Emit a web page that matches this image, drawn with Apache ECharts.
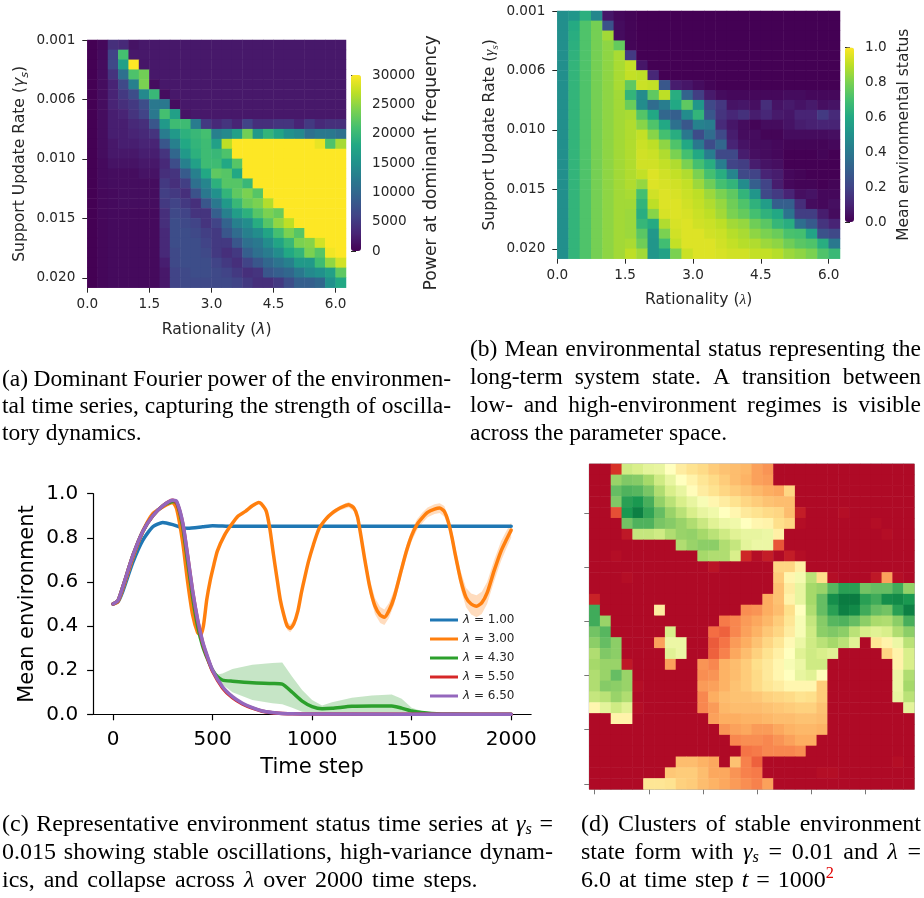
<!DOCTYPE html>
<html><head><meta charset="utf-8">
<style>html,body{margin:0;padding:0;background:#fff}#c{width:924px;height:898px}</style>
<script src="https://cdn.jsdelivr.net/npm/echarts@6/dist/echarts.min.js"></script>
</head><body><div id="c"></div>
<script>
// Panel (a): power at dominant frequency, in thousands; rows run top to bottom
const powerRows = [
[0,.6,4,3.5,1.5,2,2,2,2,2,2,2,2,2,2,2,2,2,2,2,2,2,2,2,2],
[0,.8,6,21,2,2,2,2,2,2,2,2,2,2,2,2,2,2,2,2,2,2,2,2,2],
[0,.9,6.5,17,30,1.8,2,2,2,2,2,2,2,2,2,2,2,2,2,2,2,2,2,2,2],
[0,1,4.5,11,21.5,23.5,2,2,2,2,2,2,2,2,2,2,2,2,2,2,2,2,2,2,2],
[0,1,3,6.5,13,24,1,2,2,2,2,2,2,2,2,2,2,2,2,2,2,2,2,2,2],
[0,1,3,5,7,14,20,1,2,2,2,2,2,2,2,2,2,2,2,2,2,2,2,2,2],
[0,1,3,4,5,7,12,12,1,2,2,2,2,2,2,2,2,2,2,2,2,2,2,2,2],
[0,1,2.5,3,4.5,6,12,21,17,1.5,2,2,2,2,2,2,2,2,2,2,2,2,2,2,2],
[0,1,2.5,2.5,3.5,4,8,16,20.5,20.5,12.5,5,3.5,4.5,3,6,4,4,4.5,4.5,3,5,3.5,4,4],
[0,1,2.5,2.5,3,3.5,4.5,12.5,16,19,20,21,13,14,17,23.5,16,19.5,17.5,15,14,11,12,12,11],
[0,1,2,2.5,2.5,3,3,8,13,18,19.5,20.5,17,27,30,30,30,30,30,30,30,30,29,21.5,26],
[0,1,2,2,2,2.5,2.5,4.5,10,16,19,20.5,20,21.5,30,30,30,30,30,30,30,30,30,30,30],
[0,.8,1.5,1.5,1.5,2,2,3.5,7,13,17,20.5,20.5,18,22,30,30,30,30,30,30,30,30,30,30],
[0,.8,1,1,1,1.5,1.5,4,4.5,8.5,13,18,22.5,22,18,30,30,30,30,30,30,30,30,30,30],
[0,.8,1,1,1,1,1,5,4,5.5,11,13.5,19,22,22,20,30,30,30,30,30,30,30,30,30],
[0,.6,.8,1,1,1,1,5.5,5,4,7.5,12,15,19.5,22.5,24,22,30,30,30,30,30,30,30,30],
[0,.6,.8,1,1,1,1,5,6,5,4,8,12,16,20,23,24,26.5,30,30,30,30,30,30,30],
[0,.6,.8,.8,.8,.8,.8,4,6.5,6,4.5,4.5,9,13,16.5,19,22,24,23,30,30,30,30,30,30],
[0,.5,.8,.8,.8,.8,.8,4,7,6.5,6,4.5,6,9.5,13,14.5,18.5,22,25,27,30,30,30,30,30],
[0,.5,.8,.8,.8,.8,.8,3.5,7,7,6.5,5.5,5,8,10.5,13,14.5,17.5,21,24,22,30,30,30,30],
[0,.5,.8,.8,.8,.8,.8,3.5,7,7,7,6,5,5,8,11,12,14.5,17.5,20,24,24.5,28,30,30],
[0,.5,.8,.8,.8,.8,.8,3.5,6.5,7,7,6.5,5,4,5,9,11,12.5,14.5,18,19.5,24,22,29.5,30],
[0,.5,.8,.8,.8,.8,.8,2.5,6.5,7,7,7,6,5,4,6,8,10,11.5,13,16,16,20.5,25,28],
[0,.5,.8,.8,.8,.8,.8,2,6,6.5,7,7,6.5,6,5,4,4.5,8,9,10,12,14,15,17,22.5],
[0,.5,.8,.8,.8,.8,.8,2,6,6.5,6.5,6.5,6.5,6.5,6,5,4,4,5,7,9,9,10,15,18]
];
// Panel (b): mean environmental status, in percent
const statusRows = [
[49,52,63,46,6,2,1,0,0,0,0,0,0,0,0,0,0,0,0,0,0,0,0,0,0],
[49,61,72,79,25,3,1,0,0,0,0,0,0,0,0,0,0,0,0,0,0,0,0,0,0],
[49,62,72,79,86,3,1,0,0,0,0,0,0,0,0,0,0,0,0,0,0,0,0,0,0],
[49,63,72,79,83,76,1,0,0,0,0,0,0,0,0,0,0,0,0,0,0,0,0,0,0],
[49,64,72,79,83,87,17,0,0,0,0,0,0,0,0,0,0,0,0,0,0,0,0,0,0],
[49,65,72,79,83,87,91,6,0,0,0,0,0,0,0,0,0,0,0,0,0,0,0,0,0],
[49,65,72,79,83,87,91,90,11,0,0,0,0,0,0,0,0,0,0,0,0,0,0,0,0],
[49,65,72,79,83,87,75,92,91,27,8,6,3,1,0,0,0,0,0,0,0,0,0,0,0],
[49,65,72,79,83,86,65,48,75,90,62,32,18,7,3,2,2,2,2,2,3,3,2,2,2],
[49,65,72,79,83,86,77,48,35,42,60,75,52,22,16,5,6,4,13,5,7,5,7,4,5],
[49,65,72,79,83,86,87,73,60,33,30,48,65,27,15,11,14,8,11,7,6,10,10,17,12],
[49,65,72,79,83,86,88,82,72,60,37,27,44,42,12,6,3,1,3,3,5,8,9,10,10],
[49,65,72,79,83,86,88,91,82,70,62,40,23,35,22,8,3,3,1,1,3,3,3,3,4],
[49,65,72,79,83,86,88,92,90,83,72,60,40,23,33,10,5,3,3,2,1,1,1,1,2],
[49,65,72,79,83,86,88,93,92,88,80,70,60,42,22,22,8,4,3,2,0,0,0,1,0],
[49,65,72,79,83,86,88,93,93,91,88,80,70,62,42,20,18,8,5,4,0,0,0,0,0],
[49,65,72,79,83,86,88,91,95,93,91,88,80,70,62,45,22,20,10,8,2,1,0,0,0],
[49,65,72,79,83,86,88,84,95,94,93,91,85,78,70,65,48,30,20,8,2,1,1,0,1],
[49,65,72,79,83,86,87,70,93,95,94,92,90,85,80,75,65,52,22,17,10,4,5,2,2],
[49,65,72,79,83,86,86,65,90,95,95,93,91,88,84,78,72,64,55,30,30,13,3,2,4],
[49,65,72,79,83,86,85,62,82,94,95,94,92,90,86,80,76,70,64,60,38,18,18,8,3],
[49,65,72,79,83,86,85,66,61,88,94,95,93,92,90,86,84,78,74,66,62,36,28,15,10],
[49,65,72,79,83,86,85,74,53,80,93,95,95,93,92,89,87,83,80,77,71,70,58,25,22],
[49,65,72,79,83,86,87,78,52,69,91,95,95,95,93,91,89,88,85,83,78,74,72,62,40],
[49,65,72,79,83,86,90,86,52,57,80,92,95,95,94,93,93,91,91,89,85,83,80,72,67]
];
// Panel (d): environment state on the lattice, 0 = red, 100 = green
const latticeRows = [
[2,2,10,62,60,57,56,50,44,41,39,36,34,33,32,28,26,2,2,2,2,2,2,2,2,2,2,2,2,2],
[2,2,72,76,75,70,62,56,50,46,42,39,36,33,31,28,27,2,2,2,2,2,2,2,2,2,2,2,2,2],
[2,2,80,83,82,77,68,60,56,49,44,41,38,36,34,32,30,29,38,2,2,2,2,2,2,2,2,2,2,2],
[2,2,76,88,90,84,73,66,60,56,52,47,44,41,38,36,34,33,33,2,2,2,2,2,2,2,2,2,2,2],
[2,2,15,90,95,87,80,72,66,60,56,54,50,47,43,41,39,38,33,6,2,2,2,3,2,2,2,2,2,2],
[2,2,2,78,83,83,77,75,72,68,63,58,55,54,50,47,46,40,38,3,2,2,2,2,2,2,3,2,2,2],
[2,2,2,5,64,64,62,68,72,73,70,66,62,58,56,56,55,45,2,2,2,2,2,2,2,2,2,3,2,2],
[2,2,2,2,2,2,2,2,68,72,74,74,68,64,57,55,55,16,2,2,2,2,2,2,2,2,2,2,2,2],
[2,2,3,2,2,2,2,2,2,2,70,68,68,60,8,3,6,2,6,3,2,2,2,2,2,2,2,2,2,2],
[2,2,2,2,2,2,2,2,2,2,2,4,2,2,2,2,2,38,38,45,2,2,2,2,2,2,2,2,2,2],
[2,2,2,3,2,2,2,2,2,2,2,2,2,2,2,2,2,36,47,53,66,40,3,2,2,2,5,28,3,2],
[2,2,2,2,2,2,2,2,2,2,2,2,2,2,2,2,2,34,44,56,70,72,82,88,88,78,80,80,85,73],
[7,2,2,2,2,2,2,2,2,2,2,2,2,2,2,2,30,34,46,56,70,80,92,96,96,88,85,92,93,90],
[85,2,2,2,2,2,44,2,2,2,2,2,2,2,25,26,30,33,40,50,68,80,88,95,93,85,80,78,88,95],
[85,72,2,2,2,2,2,2,2,2,2,2,22,24,27,29,32,36,42,52,64,75,82,83,80,74,69,68,74,84],
[78,82,2,2,2,2,2,60,2,2,2,20,18,24,28,31,35,38,44,52,62,74,76,74,66,60,58,60,68,74],
[74,80,74,2,2,2,28,55,55,2,2,17,21,27,30,34,38,42,48,55,62,66,70,66,58,2,42,46,55,66],
[68,76,74,2,2,2,2,58,55,2,2,18,23,29,33,37,41,45,50,58,62,60,58,2,2,2,2,38,46,60],
[70,72,72,5,2,2,2,28,2,2,26,24,31,33,36,40,43,47,52,55,62,62,2,2,2,2,2,2,46,60],
[68,72,80,72,2,2,2,2,2,2,25,26,31,33,36,39,43,47,50,56,58,49,2,2,2,2,2,2,55,68],
[68,75,74,72,3,2,2,2,2,2,27,28,31,34,36,39,42,44,47,47,47,36,2,2,2,2,2,2,55,70],
[64,66,72,68,2,2,2,2,2,2,24,30,33,34,34,35,37,38,39,41,40,36,2,2,2,2,2,2,56,66],
[47,57,62,58,3,2,2,2,2,2,24,27,32,33,33,33,34,35,36,37,37,34,2,2,2,2,2,2,2,57],
[2,2,46,46,2,2,2,2,2,2,2,28,30,30,31,31,32,33,33,34,34,33,2,2,2,2,2,2,2,2],
[2,2,2,2,2,2,2,2,2,2,2,2,26,28,29,27,27,29,31,32,32,31,2,2,2,2,2,2,2,2],
[2,2,2,2,2,2,2,2,2,2,2,2,2,24,25,25,24,26,28,30,30,2,2,2,2,2,2,2,2,2],
[2,2,2,2,2,2,2,2,2,2,2,2,2,2,21,22,24,24,24,25,2,2,2,2,2,2,2,2,2,2],
[2,2,2,2,2,2,2,2,33,33,31,29,2,34,23,18,2,2,2,2,2,2,2,2,2,2,2,2,3,2],
[2,2,2,2,2,2,2,35,36,36,33,29,29,26,23,22,2,2,2,2,2,3,3,2,2,2,2,2,2,2],
[2,2,2,2,2,42,42,41,37,36,33,31,29,27,25,23,28,2,2,2,2,2,2,2,2,2,2,2,2,2]
];
const lambdaTicks = ['0.0','1.5','3.0','4.5','6.0'];
const gammaTicks = ['0.001','0.006','0.010','0.015','0.020'];
const powerTicks = ['0','5000','10000','15000','20000','25000','30000'];
const statusTicks = ['0.0','0.2','0.4','0.6','0.8','1.0'];
const viridis = ['#440154','#482475','#414487','#355f8d','#2a788e','#21918c','#22a884','#44bf70','#7ad151','#bddf26','#fde725'];
const rdYlGn = ['#a50026','#d73027','#f46d43','#fdae61','#fee08b','#ffffbf','#d9ef8b','#a6d96a','#66bd63','#1a9850','#006837'];

// Panel (c): time series
const riseT = [0,25,50,100,150,200,250,300];
const riseY = [.5,.515,.58,.72,.83,.9,.945,.97];
const blueT = [0,25,50,100,150,200,250,300,350,375,450,500,600,700,1000,1300,1500,1700,2000];
const blueY = [.5,.51,.56,.69,.79,.85,.87,.86,.845,.843,.85,.855,.852,.853,.853,.853,.853,.853,.853];
const orangeT = [0,25,50,100,150,200,250,300,320,350,375,400,425,440,454,471,489,507,524,559,595,630,665,700,732,744,770,788,805,823,840,858,875,890,908,929,946,963,981,1007,1034,1069,1105,1140,1184,1210,1228,1245,1263,1289,1316,1342,1363,1386,1412,1447,1474,1500,1527,1553,1580,1615,1641,1664,1685,1703,1720,1746,1773,1799,1826,1852,1879,1914,1949,1975,2000];
const orangeY = [.5,.51,.57,.71,.83,.91,.94,.96,.93,.78,.6,.45,.37,.36,.40,.52,.61,.68,.74,.81,.86,.9,.92,.945,.96,.955,.92,.84,.73,.62,.52,.45,.40,.39,.41,.47,.55,.62,.69,.77,.84,.885,.915,.935,.95,.935,.895,.81,.71,.58,.49,.45,.44,.47,.53,.65,.74,.81,.86,.89,.915,.93,.935,.92,.87,.80,.72,.61,.53,.50,.49,.505,.55,.65,.74,.79,.835];
const orangeSpread = [0,0,0,0,0,0,0,0,0,0,0,.005,.008,.01,.008,.005,.004,.004,.004,.004,.005,.005,.006,.006,.006,.006,.006,.008,.01,.012,.014,.016,.018,.018,.016,.014,.012,.01,.01,.01,.01,.01,.01,.01,.012,.014,.016,.024,.03,.035,.036,.036,.035,.034,.032,.03,.028,.026,.024,.024,.022,.022,.022,.024,.026,.03,.034,.04,.044,.048,.05,.05,.05,.048,.045,.04,.035];
const greenT = [0,25,50,100,150,200,250,300,320,350,375,400,425,450,475,500,525,550,600,700,800,850,900,950,1000,1050,1100,1200,1300,1400,1450,1500,1550,1600,1700,2000];
const greenY = [.5,.515,.58,.72,.83,.9,.945,.965,.96,.85,.69,.53,.4,.31,.25,.2,.17,.155,.15,.143,.14,.137,.1,.06,.035,.025,.027,.036,.038,.038,.028,.015,.008,.004,.001,0];
const greenBandT = [500,525,550,600,700,800,850,900,950,1000,1050,1100,1200,1300,1400,1450,1500,1550,1600,1700,2000];
const greenLow = [.2,.16,.135,.1,.065,.05,.045,.03,.012,.008,.005,.003,.002,.001,.001,.001,0,0,0,0,0];
const greenHigh = [.2,.18,.185,.205,.225,.233,.235,.17,.11,.065,.04,.055,.075,.085,.09,.07,.03,.015,.008,.002,0];
const fallT = [300,320,350,375,400,425,450,475,500,550,600,650,700,750,800,850,900,1000,2000];
const redY = [.97,.96,.865,.715,.555,.425,.325,.255,.195,.12,.075,.047,.028,.014,.007,.004,.002,.001,0];
const purpleY = [.97,.965,.87,.72,.56,.43,.33,.26,.2,.125,.08,.05,.03,.015,.008,.004,.002,.001,0];
const seriesNames = ['λ = 1.00','λ = 3.00','λ = 4.30','λ = 5.50','λ = 6.50'];
const seriesColors = ['#1f77b4','#ff7f0e','#2ca02c','#d62728','#9467bd'];
const timeTicks = [0,500,1000,1500,2000];

// Captions: *x* italic, ~x~ italic subscript, ^x^ red superscript
const captionA = ['(a) Dominant Fourier power of the environmen-','tal time series, capturing the strength of oscilla-','tory dynamics.'];
const captionB = ['(b) Mean environmental status representing the','long-term system state. A transition between','low- and high-environment regimes is visible','across the parameter space.'];
const captionC = ['(c) Representative environment status time series at *γ*~s~ =','0.015 showing stable oscillations, high-variance dynam-','ics, and collapse across *λ* over 2000 time steps.'];
const captionD = ['(d) Clusters of stable environment','state form with *γ*~s~ = 0.01 and *λ* =','6.0 at time step *t* = 1000^2^'];

const sans = 'DejaVu Sans', ink = '#262626';
function cells(rows){const o=[];rows.forEach((r,y)=>r.forEach((v,x)=>o.push([x,y,v])));return o;}
function idx(n){return Array.from({length:n},(_,i)=>String(i));}
function pairs(t,y){return t.map((v,i)=>[v,y[i]]);}
const subRich = (family,fs)=>({
  i:{fontStyle:'italic',fontFamily:family,fontSize:fs,lineHeight:fs+6,color:ink},
  s:{fontStyle:'italic',fontFamily:family,fontSize:fs*.72,lineHeight:fs+6,verticalAlign:'bottom',color:ink},
  n:{fontFamily:sans,fontSize:fs,lineHeight:fs+6,color:ink}});

const grids = [
 {left:87.3,top:40,width:258.7,height:247.7},
 {left:351,top:75,width:10,height:176},
 {left:557.3,top:11,width:282.7,height:247.7},
 {left:845,top:47.5,width:9,height:174.5},
 {left:93.1,top:493.7,width:438,height:220.6},
 {left:589.3,top:464,width:325,height:325.3,show:true,borderColor:'#999',borderWidth:1}
];
const tick = {show:true,length:5,lineStyle:{color:ink,width:1}};
const hidden = (g,n)=>({type:'category',gridIndex:g,data:idx(n),show:false});
const lbl = (fs)=>({fontFamily:sans,fontSize:fs,color:ink});
const xAxes = [
 hidden(0,25),
 {type:'value',gridIndex:0,position:'bottom',min:0,max:6.25,axisLine:{show:false},splitLine:{show:false},
  axisTick:{...tick,customValues:[0,1.5,3,4.5,6]},
  axisLabel:{...lbl(13.6),margin:10,customValues:[0,1.5,3,4.5,6],formatter:v=>lambdaTicks[v/1.5]},
  name:'{n|Rationality (}{i|λ}{n|)}',nameLocation:'middle',nameGap:31,nameTextStyle:{rich:subRich(sans,15.6)}},
 {type:'value',gridIndex:1,min:0,max:1,show:false},
 hidden(2,25),
 {type:'value',gridIndex:2,position:'bottom',min:0,max:6.25,axisLine:{show:false},splitLine:{show:false},
  axisTick:{...tick,customValues:[0,1.5,3,4.5,6]},
  axisLabel:{...lbl(13.6),margin:10,customValues:[0,1.5,3,4.5,6],formatter:v=>lambdaTicks[v/1.5]},
  name:'{n|Rationality (}{i|λ}{n|)}',nameLocation:'middle',nameGap:30,nameTextStyle:{rich:subRich('Liberation Serif',15.6)}},
 {type:'value',gridIndex:3,min:0,max:1,show:false},
 {type:'value',gridIndex:4,min:-100,max:2100,splitLine:{show:false},
  axisLine:{onZero:false,lineStyle:{color:'#000',width:1.2}},
  axisTick:{show:true,length:6,customValues:timeTicks,lineStyle:{color:'#000',width:1.2}},
  axisLabel:{fontFamily:sans,fontSize:20,color:'#000',margin:15,customValues:timeTicks,formatter:v=>String(v)},
  name:'Time step',nameLocation:'middle',nameGap:43,nameTextStyle:{fontFamily:sans,fontSize:21,color:'#000'}},
 hidden(5,30),
 {type:'value',gridIndex:5,position:'bottom',min:-.5,max:29.5,axisLine:{show:false},splitLine:{show:false},
  axisTick:{show:true,length:5,customValues:[0,5,10,15,20,25],lineStyle:{color:'#777',width:1}},axisLabel:{show:false}}
];
const yAxes = [
 {...hidden(0,25),inverse:true},
 {type:'value',gridIndex:0,position:'left',min:0,max:25,inverse:true,axisLine:{show:false},splitLine:{show:false},
  axisTick:{...tick,customValues:[0,6,12,18,24]},
  axisLabel:{...lbl(13.6),margin:12,customValues:[0,6,12,18,24],formatter:v=>gammaTicks[v/6]},
  name:'{n|Support Update Rate (}{i|γ}{s|s}{n|)}',nameLocation:'middle',nameGap:57,nameRotate:90,nameTextStyle:{rich:subRich(sans,15.6)}},
 {type:'value',gridIndex:1,min:0,max:30000,position:'right',axisLine:{show:false},splitLine:{show:false},
  axisTick:{...tick,customValues:powerTicks.map(Number)},
  axisLabel:{...lbl(13.6),margin:11,customValues:powerTicks.map(Number),formatter:v=>String(v)},
  name:'Power at dominant frequency',nameLocation:'middle',nameRotate:90,nameGap:62,nameTextStyle:{fontFamily:sans,fontSize:17.3,color:ink}},
 {...hidden(2,25),inverse:true},
 {type:'value',gridIndex:2,position:'left',min:0,max:25,inverse:true,axisLine:{show:false},splitLine:{show:false},
  axisTick:{...tick,customValues:[0,6,12,18,24]},
  axisLabel:{...lbl(13.6),margin:12,customValues:[0,6,12,18,24],formatter:v=>gammaTicks[v/6]},
  name:'{n|Support Update Rate (}{i|γ}{s|s}{n|)}',nameLocation:'middle',nameGap:57,nameRotate:90,nameTextStyle:{rich:subRich('Liberation Serif',15.6)}},
 {type:'value',gridIndex:3,min:0,max:1,position:'right',axisLine:{show:false},splitLine:{show:false},
  axisTick:{...tick,customValues:statusTicks.map(Number)},
  axisLabel:{...lbl(13.6),margin:11,customValues:statusTicks.map(Number),formatter:v=>v.toFixed(1)},
  name:'Mean environmental status',nameLocation:'middle',nameRotate:90,nameGap:42,nameTextStyle:{fontFamily:sans,fontSize:15.5,color:ink}},
 {type:'value',gridIndex:4,min:0,max:1,interval:.2,splitLine:{show:false},
  axisLine:{show:true,onZero:false,lineStyle:{color:'#000',width:1.2}},
  axisTick:{show:true,length:6,lineStyle:{color:'#000',width:1.2}},
  axisLabel:{fontFamily:sans,fontSize:20,color:'#000',margin:15,formatter:v=>v.toFixed(1)},
  name:'Mean environment',nameLocation:'middle',nameRotate:90,nameGap:55,nameTextStyle:{fontFamily:sans,fontSize:21,color:'#000'}},
 {...hidden(5,30),inverse:true},
 {type:'value',gridIndex:5,position:'left',min:-.5,max:29.5,inverse:true,axisLine:{show:false},splitLine:{show:false},
  axisTick:{show:true,length:5,customValues:[4,9,14,19,24,29],lineStyle:{color:'#777',width:1}},axisLabel:{show:false}}
];
const hm = (name,rows,xi,yi)=>({type:'heatmap',name,xAxisIndex:xi,yAxisIndex:yi,data:cells(rows),progressive:0,emphasis:{disabled:true},itemStyle:{borderWidth:0}});
const ln = (name,data,color,w,z)=>({type:'line',name,xAxisIndex:6,yAxisIndex:6,data,symbol:'none',smooth:.2,z,
  lineStyle:{color,width:w,cap:'round',join:'round'},itemStyle:{color},clip:false,emphasis:{disabled:true}});
// Shaded spread: one polygon through the axes' own scales
const band = (id,xs,low,high,color,op)=>({type:'custom',name:id,xAxisIndex:6,yAxisIndex:6,z:2,silent:true,
  encode:{x:0,y:[1,2]},data:xs.map((x,i)=>[x,low[i],high[i]]),
  renderItem:(p,api)=>{
    if(p.dataIndex!==0)return null;
    const up=xs.map((x,i)=>api.coord([x,high[i]]));
    const dn=xs.map((x,i)=>api.coord([x,low[i]])).reverse();
    return {type:'polygon',shape:{points:up.concat(dn)},style:{fill:color,opacity:op,stroke:null}};
  }});

const series = [
 hm('power',powerRows,0,0),
 hm('status',statusRows,3,3),
 hm('lattice',latticeRows,7,7),
 band('orangeBand',orangeT,orangeT.map((_,i)=>orangeY[i]-orangeSpread[i]),orangeT.map((_,i)=>orangeY[i]+orangeSpread[i]),'#ff7f0e',.27),
 band('greenBand',greenBandT,greenLow,greenHigh,'#2ca02c',.27),
 ln(seriesNames[0],pairs(blueT,blueY),seriesColors[0],3.5,3),
 ln(seriesNames[1],pairs(orangeT,orangeY),seriesColors[1],3.5,4),
 ln(seriesNames[2],pairs(greenT,greenY),seriesColors[2],3.5,5),
 ln(seriesNames[3],pairs(riseT.concat(fallT.slice(1)),riseY.concat(redY.slice(1))),seriesColors[3],3.5,6),
 ln(seriesNames[4],pairs(riseT.concat(fallT.slice(1)),riseY.concat(purpleY.slice(1))),seriesColors[4],3.5,7)
];

// Caption layout
const ctx = document.createElement('canvas').getContext('2d');
const capFamily = '"Liberation Serif"';
const makeStyles = size=>({
  r:{size,italic:false,dy:0,fill:'#000'},
  i:{size,italic:true,dy:0,fill:'#000'},
  s:{size:size*.68,italic:true,dy:5,fill:'#000'},
  u:{size:size*.68,italic:false,dy:-7,fill:'#e00000'}
});
const fontOf = s=>(s.italic?'italic ':'')+s.size+'px '+capFamily;
function parseRuns(w,styles){
  const out=[];const re=/\*([^*]+)\*|~([^~]+)~|\^([^^]+)\^|([^*~^]+)/g;let m;
  while((m=re.exec(w))){
    if(m[1])out.push({t:m[1],st:styles.i});else if(m[2])out.push({t:m[2],st:styles.s});
    else if(m[3])out.push({t:m[3],st:styles.u});else out.push({t:m[4],st:styles.r});
  }
  out.forEach(r=>{ctx.font=fontOf(r.st);r.w=ctx.measureText(r.t).width;});
  return out;
}
function layoutCaption(lines,x,ys,width,size,lastExtra){
  const els=[],styles=makeStyles(size);
  ctx.font=fontOf(styles.r);const space=ctx.measureText(' ').width;
  lines.forEach((line,li)=>{
    const words=line.split(' ').map(w=>parseRuns(w,styles));
    const widths=words.map(rs=>rs.reduce((a,r)=>a+r.w,0));
    const total=widths.reduce((a,b)=>a+b,0);
    const gap=li<lines.length-1?(width-total)/(words.length-1):space+lastExtra;
    let cx=x;
    words.forEach(rs=>{
      rs.forEach(r=>{
        els.push({type:'text',x:cx,y:ys[li]+r.st.dy,silent:true,style:{text:r.t,font:fontOf(r.st),fill:r.st.fill,verticalAlign:'middle',align:'left'}});
        cx+=r.w;
      });
      cx+=gap;
    });
  });
  return els;
}
const graphics = [
 ...layoutCaption(captionA,2,[380,407,434],449,23.5,0),
 ...layoutCaption(captionB,470,[350,378,406,434],451,23.5,0),
 ...layoutCaption(captionC,2,[825,853,881],551,24,3),
 ...layoutCaption(captionD,581,[825,853,881],340,24,2)
];

const chart = echarts.init(document.getElementById('c'),null,{renderer:'canvas',width:924,height:898});
chart.setOption({
 animation:false,backgroundColor:'#fff',tooltip:{show:false},
 grid:grids,xAxis:xAxes,yAxis:yAxes,series,
 visualMap:[
  {type:'continuous',seriesIndex:0,min:0,max:30,inRange:{color:viridis},left:351,top:75,itemWidth:10,itemHeight:176,padding:0,calculable:false,hoverLink:false,text:['',''],textGap:0},
  {type:'continuous',seriesIndex:1,min:0,max:100,inRange:{color:viridis},left:845,top:47.5,itemWidth:9,itemHeight:174.5,padding:0,calculable:false,hoverLink:false,text:['',''],textGap:0},
  {type:'continuous',seriesIndex:2,min:0,max:100,inRange:{color:rdYlGn},show:false}
 ],
 legend:{data:seriesNames,orient:'vertical',left:430,top:614,padding:0,itemWidth:28,itemHeight:3,itemGap:7,icon:'rect',
  selectedMode:false,textStyle:{fontFamily:sans,fontSize:12,color:ink,rich:{i:{fontStyle:'italic',fontFamily:sans,fontSize:12,color:ink}}},
  formatter:n=>'{i|λ}'+n.slice(1)},
 graphic:{elements:graphics}
});
</script></body></html>
